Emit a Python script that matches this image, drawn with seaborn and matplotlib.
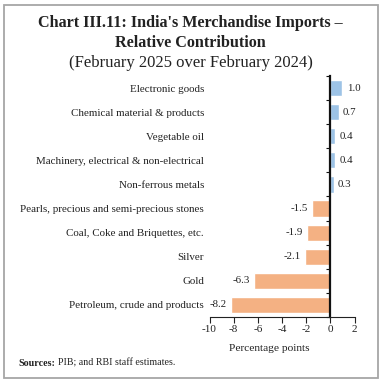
import matplotlib
matplotlib.use("Agg")
import matplotlib.pyplot as plt
import seaborn as sns
import pandas as pd
from matplotlib.patches import Rectangle

categories = [
    "Electronic goods",
    "Chemical material & products",
    "Vegetable oil",
    "Machinery, electrical & non-electrical",
    "Non-ferrous metals",
    "Pearls, precious and semi-precious stones",
    "Coal, Coke and Briquettes, etc.",
    "Silver",
    "Gold",
    "Petroleum, crude and products",
]
values = [1.0, 0.7, 0.4, 0.4, 0.3, -1.5, -1.9, -2.1, -6.3, -8.2]
xticks = [-10, -8, -6, -4, -2, 0, 2]

pos_color = "#9DC3E6"
neg_color = "#F4B183"

sns.set_theme(style="white")
plt.rcParams["font.family"] = ["Liberation Serif", "DejaVu Serif"]

df = pd.DataFrame({"category": categories, "value": values})
df["sign"] = ["pos" if v >= 0 else "neg" for v in values]

fig = plt.figure(figsize=(3.81, 3.82), dpi=100)
ax = fig.add_axes([209.5 / 381, 1 - 317 / 382, 145 / 381, 241 / 382])

sns.barplot(data=df, x="value", y="category", hue="sign",
            palette={"pos": pos_color, "neg": neg_color},
            dodge=False, width=0.67, legend=False, ax=ax, saturation=1)

for cont in ax.containers:
    ax.bar_label(cont, fmt="%.1f", padding=3, fontsize=7.8, color="#222222")

ax.set_xlim(-10, 2)
ax.set_ylim(len(categories) - 0.5, -0.5)
ax.set_xticks(xticks)
ax.set_xticklabels([str(t) for t in xticks], fontsize=8, color="#222222")
ax.tick_params(axis="x", direction="out", length=4, width=0.8, color="#222222", pad=2, bottom=True)

ax.spines["top"].set_visible(False)
ax.spines["right"].set_visible(False)
ax.spines["bottom"].set_color("#222222")
ax.spines["bottom"].set_linewidth(0.8)
ax.spines["left"].set_position(("data", 0))
ax.spines["left"].set_color("#111111")
ax.spines["left"].set_linewidth(1.6)

ax.tick_params(axis="y", which="major", length=0, pad=91, labelsize=7.9, labelcolor="#222222")
ax.set_yticks(range(len(categories)), minor=False)
ax.set_yticks([i - 0.5 for i in range(len(categories) + 1)], minor=True)
ax.tick_params(axis="y", which="minor", direction="out", length=3, width=0.8, color="#111111", left=True)
for lab in ax.get_yticklabels():
    lab.set_horizontalalignment("right")

ax.set_ylabel("")
ax.set_xlabel("Percentage points", fontsize=8.2, color="#222222")
ax.xaxis.set_label_coords(0.41, -0.11)

fig.text(0.5, 1 - 23 / 382, "Chart III.11: India's Merchandise Imports \u2013",
         ha="center", va="center", fontsize=11.6, fontweight="bold", color="#222222")
fig.text(0.5, 1 - 43 / 382, "Relative Contribution",
         ha="center", va="center", fontsize=11.6, fontweight="bold", color="#222222")
fig.text(0.5, 1 - 63 / 382, "(February 2025 over February 2024)",
         ha="center", va="center", fontsize=12, color="#222222")

fig.text(18 / 381, 1 - 363 / 382, "Sources:", ha="left", va="center",
         fontsize=7.2, fontweight="bold", color="#222222")
fig.text(58 / 381, 1 - 363 / 382, "PIB; and RBI staff estimates.", ha="left", va="center",
         fontsize=7.2, color="#222222")

fig.patches.append(Rectangle((3.5 / 381, 4.5 / 382), 374 / 381, 373 / 382,
                             transform=fig.transFigure, fill=False,
                             edgecolor="#A6A6A6", linewidth=1.3))

fig.savefig("out.png", dpi=100)
